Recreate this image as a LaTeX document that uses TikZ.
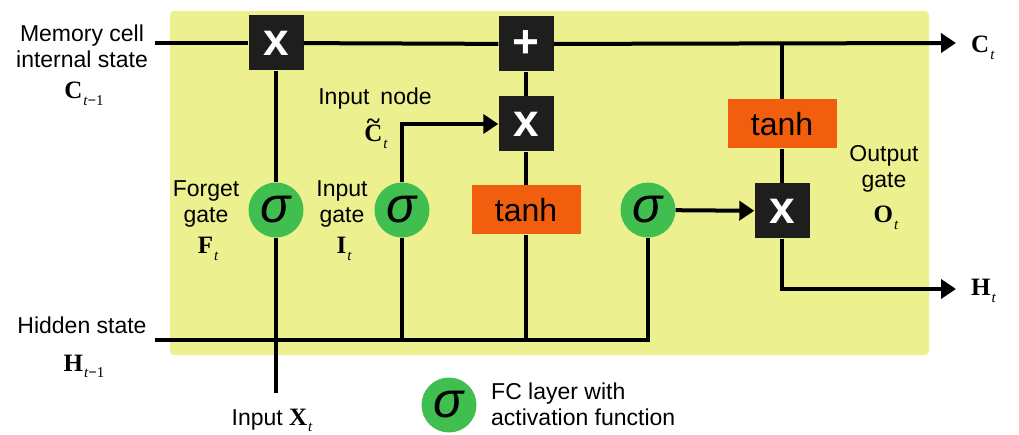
\documentclass[tikz,border=0pt]{standalone}
\usepackage{fontspec}
\setmainfont{Liberation Sans}
\newfontfamily\tms{Liberation Serif}
\usetikzlibrary{arrows.meta}
\definecolor{bgy}{RGB}{236,240,142}
\definecolor{gbox}{RGB}{30,30,30}
\definecolor{sgreen}{RGB}{65,190,80}
\definecolor{torange}{RGB}{241,95,14}
\newcommand\lbl[2]{{\fontsize{25}{25}\selectfont\tms\bfseries #1}\hspace{1pt}\raisebox{-0.5ex}{\fontsize{15}{15}\selectfont\tms #2}}
\newcommand\tlC{\setbox0\hbox{C}\rlap{\hbox to \wd0{\hss\raisebox{0.5em}{\textasciitilde}\hss}}C}
\begin{document}
\begin{tikzpicture}[x=1pt,y=-1pt,
 wire/.style={line width=4pt, black},
 arr/.style={wire,-{Triangle[length=15pt,width=19pt]}},
 opbox/.style={fill=gbox, minimum size=55pt, inner sep=0pt, text=white, font=\fontsize{46}{46}\selectfont\bfseries},
 sig/.style={circle, fill=sgreen, minimum size=55pt, inner sep=0pt, font=\fontsize{50}{50}\selectfont\itshape},
 tanhbox/.style={fill=torange, minimum width=109pt, minimum height=49pt, inner sep=0pt, font=\fontsize{32}{32}\selectfont},
 txt/.style={anchor=base, inner sep=0pt, font=\fontsize{23}{23}\selectfont}]
\useasboundingbox (0,0) rectangle (1019,435);
\fill[bgy, rounded corners=4pt] (170,11) rectangle (929,355);

% operators
\node[opbox] (fx) at (276,43) {x};
\node[opbox] (plus) at (526,44) {+};
\node[opbox] (ix) at (526,124) {x};
\node[tanhbox] (th1) at (526,210) {tanh};
\node[sig] (sf) at (276,210) {σ};
\node[sig] (si) at (402,210) {σ};
\node[sig] (so) at (648,210) {σ};
\node[tanhbox] (th2) at (782,124) {tanh};
\node[opbox] (ox) at (782,211) {x};

% free ends
\coordinate (cin) at (155,43);
\coordinate (cout) at (956,43);
\coordinate (ctap) at (782,43);
\coordinate (hin) at (155,340);
\coordinate (hturn) at (782,289);
\coordinate (hout) at (956,289);
\coordinate (xin) at (276,393);

% wires
\draw[wire] (cin) -- (fx);
\draw[wire] (fx) -- (plus);
\draw[arr] (plus) -- (cout);
\draw[wire] (ctap) -- (th2);
\draw[wire] (th2) -- (ox);
\draw[arr] (ox) -- (hturn) -- (hout);
\draw[arr] (so) -- (ox);
\draw[wire] (th1) -- (ix);
\draw[wire] (ix) -- (plus);
\draw[arr] (si) |- (ix);
\draw[wire] (hin) -| (so);
\draw[wire] (si) -- (si |- hin);
\draw[wire] (th1) -- (th1 |- hin);
\draw[wire] (fx) -- (sf);
\draw[wire] (sf) -- (xin);

% labels
\node[txt] (m1) at (82,42) {Memory cell};
\node[txt] (m2) at (82,68) {internal state};
\node[txt] (m3) at (84,99) {\lbl{C}{{\itshape t}{\bfseries −}1}};
\node[txt] (h1) at (82,333) {Hidden state};
\node[txt] (h2) at (84,371) {\lbl{H}{{\itshape t}{\bfseries −}1}};
\node[txt] (xl) at (272,425) {Input \lbl{X}{\itshape t}};
\node[txt] (f1) at (206,197) {Forget};
\node[txt] (f2) at (206,223) {gate};
\node[txt] (f3) at (208,254) {\lbl{F}{\itshape t}};
\node[txt] (i1) at (342,197) {Input};
\node[txt] (i2) at (342,223) {gate};
\node[txt] (i3) at (344,254) {\lbl{I}{\itshape t}};
\node[txt] (n1) at (375,105) {Input\hspace{0.2em} node};
\node[txt] (n2) at (376,142) {\lbl{\tlC}{\itshape t}};
\node[txt] (o1) at (884,162) {Output};
\node[txt] (o2) at (884,188) {gate};
\node[txt] (o3) at (886,223) {\lbl{O}{\itshape t}};
\node[txt, anchor=base west] (ct) at (971,53) {\lbl{C}{\itshape t}};
\node[txt, anchor=base west] (ht) at (971,296) {\lbl{H}{\itshape t}};

% legend
\node[sig] (lsig) at (449,405) {σ};
\node[txt, anchor=base west] (l1) at (491,399) {FC layer with};
\node[txt, anchor=base west] (l2) at (491,425) {activation function};
\end{tikzpicture}
\end{document}
